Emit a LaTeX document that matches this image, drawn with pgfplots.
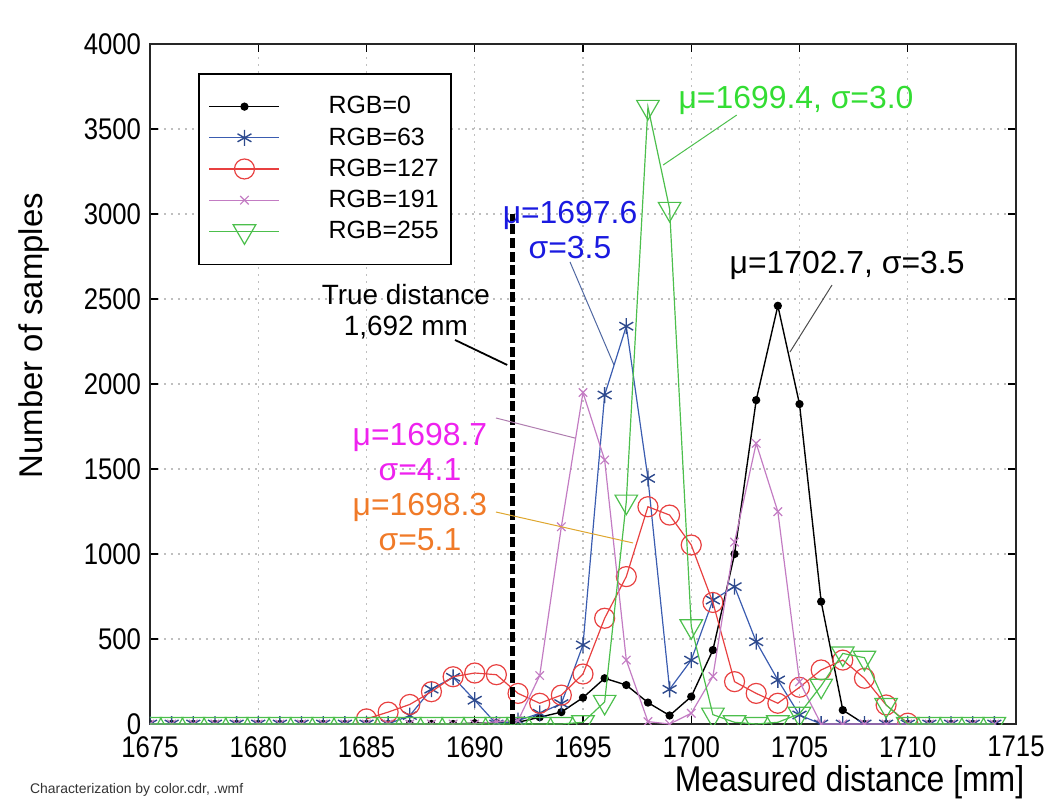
\documentclass[border=0pt]{standalone}
\usepackage{pgfplots}
\pgfplotsset{compat=1.18}
\usepackage{pgfplotstable}
\usepackage{fontspec}
\setmainfont{Liberation Sans}
\definecolor{cblue}{HTML}{3A5CB0}
\definecolor{cred}{HTML}{E84040}
\definecolor{cmag}{HTML}{C37CC3}
\definecolor{cgreen}{HTML}{4CBF4C}
\definecolor{tblue}{HTML}{1A1AE0}
\definecolor{tgreen}{HTML}{33DD33}
\definecolor{tmag}{HTML}{EE22EE}
\definecolor{torange}{HTML}{F07A28}
\pgfplotstableread{
x k b r m g
1675 0 0 nan 0 0
1676 0 0 nan 0 0
1677 0 0 nan 0 0
1678 0 0 nan 0 0
1679 0 0 nan 0 0
1680 0 0 nan 0 0
1681 0 0 nan 0 0
1682 0 0 nan 0 0
1683 0 0 nan 0 0
1684 0 0 nan 0 0
1685 0 0 30 0 0
1686 0 0 70 0 0
1687 0 50 115 0 0
1688 0 205 190 0 0
1689 0 275 278 0 0
1690 5 140 300 0 0
1691 5 0 290 14 0
1692 10 20 180 20 0
1693 40 63 122 285 0
1694 70 120 170 1160 0
1695 155 465 294 1950 10
1696 269 1935 622 1553 130
1697 229 2340 867 376 1308
1698 126 1445 1278 14 3630
1699 50 204 1229 0 3030
1700 161 376 1053 63 575
1701 435 729 715 280 55
1702 1000 808 249 1070 10
1703 1905 484 180 1651 0
1704 2460 259 122 1249 10
1705 1882 53 216 249 60
1706 720 0 318 0 225
1707 82 0 376 0 415
1708 0 0 269 0 390
1709 0 0 112 0 112
1710 0 0 5 0 0
1711 0 0 nan 0 0
1712 0 0 nan 0 0
1713 0 0 nan 0 0
1714 0 0 nan 0 0
}\datatable
\begin{document}
\begin{tikzpicture}
\path[use as bounding box] (-75bp,-40.5bp) rectangle (454bp,362bp);
\begin{axis}[
  at={(0,0)}, anchor=south west,
  scale only axis, width=433bp, height=340bp,
  xmin=1675, xmax=1715, ymin=0, ymax=4000,
  xtick={1675,1680,...,1715}, ytick={0,500,...,4000},
  scaled ticks=false,
  clip marker paths=true,
  /pgf/number format/1000 sep={},
  /pgf/number format/assume math mode=true,
  tick align=inside, major tick length=4bp,
  tick style={black, line width=0.6pt},
  axis line style={black!85, line width=0.8pt},
  grid=major,
  major grid style={gray!50, line width=0.6pt, dash pattern=on 1bp off 2.5bp},
  every tick label/.append style={font=\fontsize{15}{15}\selectfont, xscale=0.86, inner sep=1bp},
  xticklabel style={yshift=-5bp},
  yticklabel style={xshift=-4bp},
  xlabel={Measured distance [mm]},
  xlabel style={at={(axis description cs:1.012,-0.086)}, anchor=east, inner sep=1bp, font=\fontsize{18}{18}\selectfont, xscale=0.89},
  ylabel={Number of samples},
  ylabel style={at={(axis description cs:-0.134,0.571)}, anchor=center, font=\fontsize{16.5}{16.5}\selectfont},
  legend style={at={(axis description cs:0.0554,0.957)}, anchor=north west,
    draw=black, line width=0.8pt, fill=white,
    font=\fontsize{12.5}{14}\selectfont,
    inner xsep=5bp, inner ysep=10bp, row sep=3bp,
    nodes={inner sep=1.2bp}, column sep=23bp},
  legend cell align=left,
  legend image code/.code={\draw[mark repeat=2,mark phase=2,#1] plot coordinates {(0bp,0bp) (17.5bp,0bp) (35bp,0bp)};},
]
\addplot[black, line width=0.7pt, mark=*, mark size=1.7bp] table[x=x,y=k] {\datatable};
\addlegendentry{RGB=0}
\addplot[cblue, line width=0.6pt, mark=asterisk, mark size=4bp, mark options={solid, color=cblue!80!black, line width=0.7pt}] table[x=x,y=b] {\datatable};
\addlegendentry{RGB=63}
\addplot[cred, line width=0.6pt, mark=o, mark size=5bp, mark options={line width=0.6pt}] table[x=x,y=r] {\datatable};
\addlegendentry{RGB=127}
\addplot[cmag, line width=0.6pt, mark=x, mark size=3bp, mark options={line width=0.6pt}] table[x=x,y=m] {\datatable};
\addlegendentry{RGB=191}
\addplot[cgreen, line width=0.6pt, mark=triangle, mark size=6.5bp, mark options={rotate=180, line width=0.6pt}] table[x=x,y=g] {\datatable};
\addlegendentry{RGB=255}
\addplot[forget plot, black, line width=2.6bp, dash pattern=on 5bp off 1.8bp] coordinates {(1691.75,0) (1691.75,3000)};
% annotations
\node[black, align=center, font=\fontsize{14}{15.5}\selectfont] at (axis cs:1686.82,2424) {True distance\\1,692 mm};
\draw[black, line width=0.9pt] (axis cs:1689.09,2259) -- (axis cs:1691.5,2112);
\node[tblue, align=center, font=\fontsize{16}{17.5}\selectfont] at (axis cs:1694.4,2906) {μ=1697.6\\σ=3.5};
\draw[cblue!70!gray, line width=0.5pt] (axis cs:1694.4,2718) -- (axis cs:1696.43,2112);
\node[tgreen, font=\fontsize{16}{17.5}\selectfont] at (axis cs:1704.84,3670) {μ=1699.4, σ=3.0};
\draw[cgreen, line width=0.5pt] (axis cs:1702.1,3582) -- (axis cs:1698.7,3288);
\node[black, font=\fontsize{16}{17.5}\selectfont] at (axis cs:1707.2,2700) {μ=1702.7, σ=3.5};
\draw[black!70, line width=0.5pt] (axis cs:1706.5,2582) -- (axis cs:1704.56,2188);
\node[tmag, align=center, font=\fontsize{16}{17.5}\selectfont] at (axis cs:1687.47,1600) {μ=1698.7\\σ=4.1};
\draw[cmag!70!gray, line width=0.5pt] (axis cs:1690.98,1800) -- (axis cs:1694.63,1682);
\node[torange, align=center, font=\fontsize{16}{17.5}\selectfont] at (axis cs:1687.47,1188) {μ=1698.3\\σ=5.1};
\draw[torange!60!yellow!80!gray, line width=0.5pt] (axis cs:1690.98,1247) -- (axis cs:1697.31,1065);
\end{axis}
\node[black!80, anchor=west, font=\fontsize{7}{8}\selectfont] at (-63.5bp,-33bp) {Characterization by color.cdr, .wmf};
\end{tikzpicture}
\end{document}
